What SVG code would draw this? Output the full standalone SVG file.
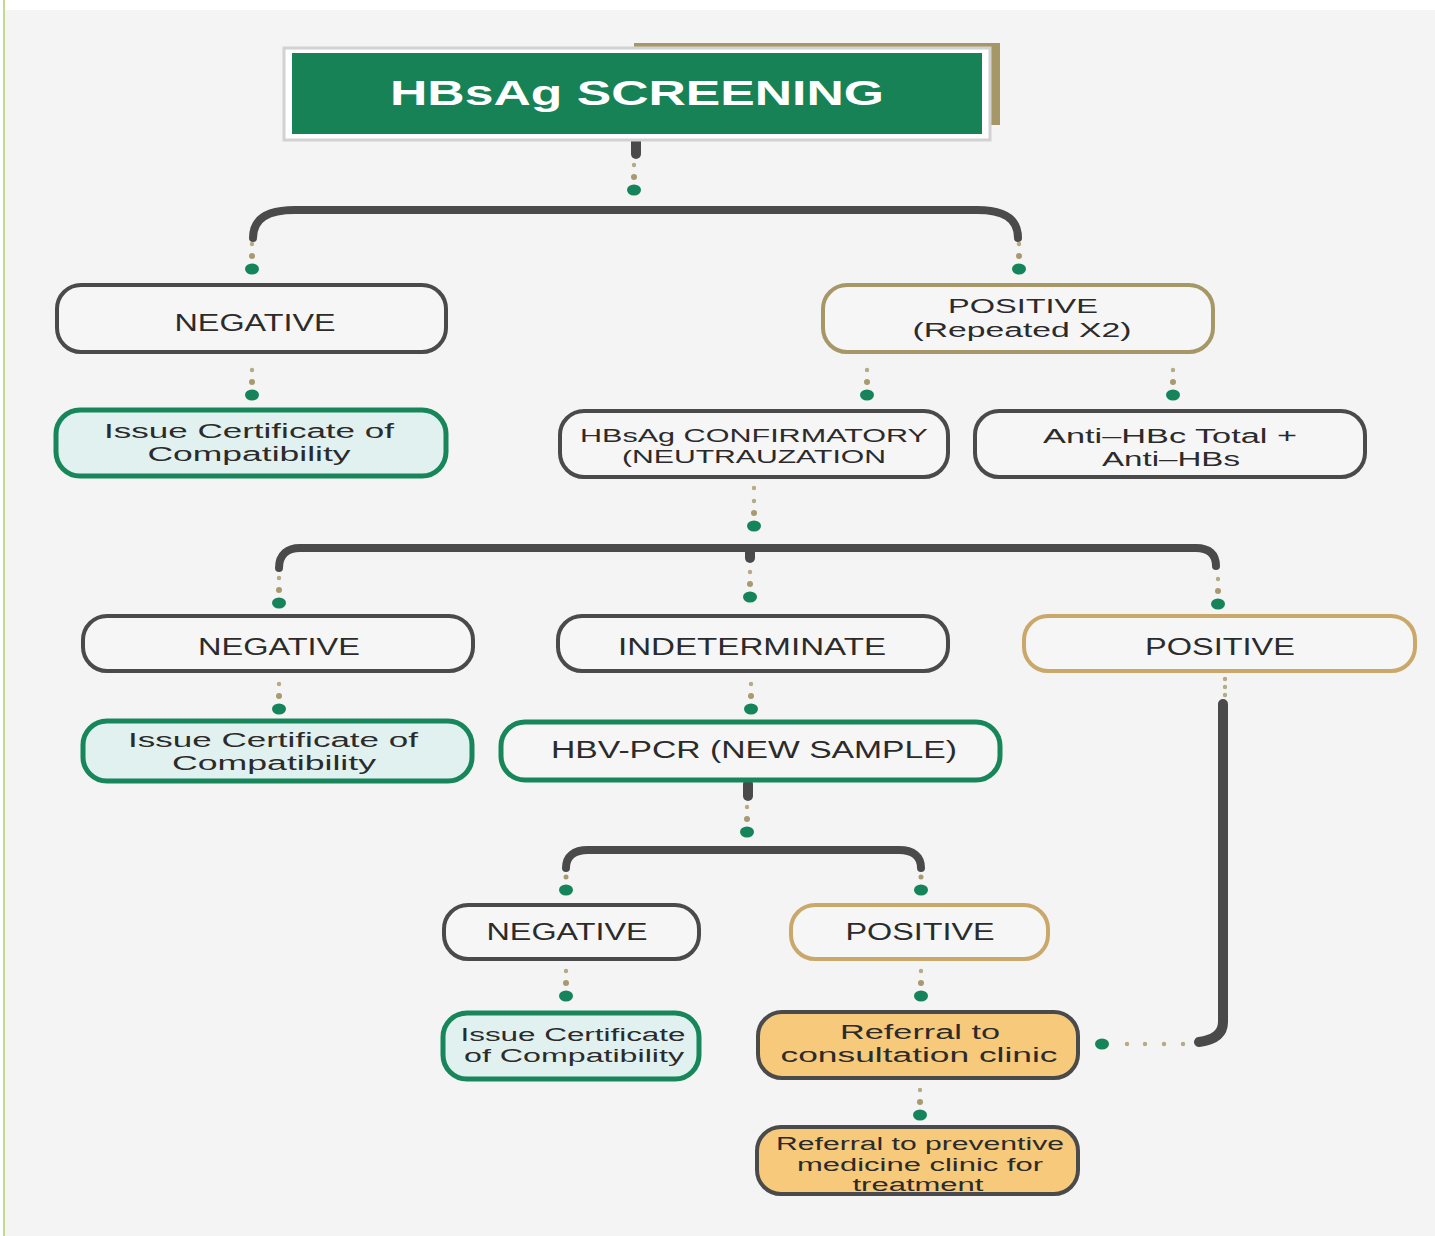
<svg xmlns="http://www.w3.org/2000/svg" width="1435" height="1236" viewBox="0 0 1435 1236">
  <style>
    .bg { fill: #f4f4f4; }
    .box { stroke-width: 4; }
    .dark { fill: #f6f6f6; stroke: #4a4a4a; }
    .olive { fill: #f6f6f6; stroke: #a69866; }
    .tan { fill: #f6f6f6; stroke: #c9a86a; }
    .cert { fill: #e1f1f0; stroke: #17865a; stroke-width: 5; }
    .pcr { fill: #f6f6f6; stroke: #17865a; stroke-width: 5; }
    .amber { fill: #f6c97b; stroke: #4a4a4a; }
    .lbl { font-family: "Liberation Sans", Arial, sans-serif; font-size: 23px; fill: #2b2b2b; text-anchor: middle; }
    .two { font-size: 20px; }
    .sm { font-size: 18px; }
    .title { font-family: "Liberation Sans", Arial, sans-serif; font-weight: bold; font-size: 35px; fill: #ffffff; text-anchor: middle; }
    .bar { fill: none; stroke: #4a4a4a; stroke-width: 8; stroke-linecap: round; }
    .stem { fill: none; stroke: #4a4a4a; stroke-width: 10; stroke-linecap: round; }
    .ds { fill: #b5aa84; }
    .dm { fill: #a89a6e; }
    .dg { fill: #15845a; }
  </style>
  <defs>
    <!-- dot trail used under each branch -->
    <g id="trail">
      <circle class="ds" cx="0" cy="0" r="2.2"/>
      <circle class="dm" cx="0" cy="12" r="3"/>
      <ellipse class="dg" cx="0" cy="25" rx="7" ry="5.5"/>
    </g>
  </defs>

  <!-- page -->
  <rect x="0" y="0" width="1435" height="1236" fill="#ffffff"/>
  <rect class="bg" x="5" y="10" width="1430" height="1226"/>
  <rect x="3" y="0" width="2" height="1236" fill="#c3d990"/>

  <!-- connectors -->
  <g id="connectors">
    <!-- from title -->
    <line class="stem" x1="636" y1="136" x2="636" y2="154"/>
    <use href="#trail" x="634" y="165"/>
    <path class="bar" d="M253,238 C253,218 268,210 295,210 H977 C1003,210 1018,218 1018,238"/>
    <use href="#trail" x="252" y="244"/>
    <use href="#trail" x="1019" y="244"/>

    <!-- below first row -->
    <use href="#trail" x="252" y="370"/>
    <use href="#trail" x="867" y="370"/>
    <use href="#trail" x="1173" y="370"/>

    <!-- below confirmatory -->
    <circle class="ds" cx="754" cy="488" r="2.2"/>
    <use href="#trail" x="754" y="501"/>
    <path class="bar" d="M279,568 C279,554 288,548 300,548 H1196 C1209,548 1216,554 1216,566"/>
    <line class="stem" x1="750" y1="549" x2="750" y2="558"/>
    <use href="#trail" x="279" y="578"/>
    <use href="#trail" x="750" y="572"/>
    <use href="#trail" x="1218" y="579"/>

    <!-- below third row -->
    <use href="#trail" x="279" y="684"/>
    <use href="#trail" x="751" y="684"/>

    <!-- below PCR -->
    <line class="stem" x1="748" y1="784" x2="748" y2="796"/>
    <use href="#trail" x="747" y="807"/>
    <path class="bar" d="M566,868 C566,856 574,850 588,850 H899 C913,850 921,856 921,868"/>
    <circle class="dm" cx="566" cy="877" r="2.5"/>
    <ellipse class="dg" cx="566" cy="890" rx="7" ry="5.5"/>
    <circle class="dm" cx="921" cy="877" r="2.5"/>
    <ellipse class="dg" cx="921" cy="890" rx="7" ry="5.5"/>

    <!-- below fourth row -->
    <use href="#trail" x="566" y="971"/>
    <use href="#trail" x="921" y="971"/>
    <use href="#trail" x="920" y="1090"/>

    <!-- long return path from right POSITIVE -->
    <circle class="ds" cx="1225" cy="679" r="2.2"/>
    <circle class="ds" cx="1225" cy="687" r="2.2"/>
    <circle class="ds" cx="1225" cy="695" r="2.2"/>
    <path class="stem" d="M1223,704 V1022 C1223,1034 1214,1040 1199,1042"/>
    <circle class="ds" cx="1183" cy="1044" r="2.2"/>
    <circle class="ds" cx="1164" cy="1044" r="2.2"/>
    <circle class="ds" cx="1145" cy="1044" r="2.2"/>
    <circle class="ds" cx="1127" cy="1044" r="2.2"/>
    <ellipse class="dg" cx="1102" cy="1044" rx="7" ry="5.5"/>
  </g>

  <!-- title -->
  <g id="title">
    <rect x="634" y="43" width="366" height="82" fill="#a69866"/>
    <rect x="284" y="48" width="706" height="92" fill="#ffffff" stroke="#d2d2d2" stroke-width="3"/>
    <rect x="292" y="53" width="690" height="81" fill="#178256"/>
    <text class="title" x="637" y="105" textLength="494" lengthAdjust="spacingAndGlyphs">HBsAg SCREENING</text>
  </g>

  <!-- first result row -->
  <g id="neg1">
    <rect class="box dark" x="57" y="285" width="389" height="67" rx="24"/>
    <text class="lbl" x="255" y="331" textLength="161" lengthAdjust="spacingAndGlyphs">NEGATIVE</text>
  </g>
  <g id="pos1">
    <rect class="box olive" x="823" y="285" width="390" height="67" rx="24"/>
    <text class="lbl two" x="1023" y="313" textLength="150" lengthAdjust="spacingAndGlyphs">POSITIVE</text>
    <text class="lbl two" x="1022" y="337" textLength="219" lengthAdjust="spacingAndGlyphs">(Repeated X2)</text>
  </g>

  <!-- second row -->
  <g id="cert1">
    <rect class="cert" x="56" y="410" width="390" height="66" rx="24"/>
    <text class="lbl two" x="249" y="438" textLength="290" lengthAdjust="spacingAndGlyphs">Issue Certificate of</text>
    <text class="lbl two" x="249" y="461" textLength="203" lengthAdjust="spacingAndGlyphs">Compatibility</text>
  </g>
  <g id="confirm">
    <rect class="box dark" x="560" y="411" width="388" height="66" rx="24"/>
    <text class="lbl sm" x="754" y="442" textLength="348" lengthAdjust="spacingAndGlyphs">HBsAg CONFIRMATORY</text>
    <text class="lbl sm" x="754" y="463" textLength="264" lengthAdjust="spacingAndGlyphs">(NEUTRAUZATION</text>
  </g>
  <g id="antihbc">
    <rect class="box dark" x="975" y="411" width="390" height="66" rx="24"/>
    <text class="lbl two" x="1170" y="443" textLength="254" lengthAdjust="spacingAndGlyphs">Anti–HBc Total +</text>
    <text class="lbl two" x="1171" y="466" textLength="138" lengthAdjust="spacingAndGlyphs">Anti–HBs</text>
  </g>

  <!-- third row -->
  <g id="neg2">
    <rect class="box dark" x="83" y="616" width="390" height="55" rx="24"/>
    <text class="lbl" x="279" y="655" textLength="162" lengthAdjust="spacingAndGlyphs">NEGATIVE</text>
  </g>
  <g id="indeterminate">
    <rect class="box dark" x="558" y="616" width="390" height="55" rx="24"/>
    <text class="lbl" x="752" y="655" textLength="268" lengthAdjust="spacingAndGlyphs">INDETERMINATE</text>
  </g>
  <g id="pos2">
    <rect class="box tan" x="1024" y="616" width="391" height="55" rx="24"/>
    <text class="lbl" x="1220" y="655" textLength="150" lengthAdjust="spacingAndGlyphs">POSITIVE</text>
  </g>

  <!-- fourth row -->
  <g id="cert2">
    <rect class="cert" x="83" y="721" width="389" height="60" rx="24"/>
    <text class="lbl two" x="273" y="747" textLength="290" lengthAdjust="spacingAndGlyphs">Issue Certificate of</text>
    <text class="lbl two" x="274" y="770" textLength="204" lengthAdjust="spacingAndGlyphs">Compatibility</text>
  </g>
  <g id="pcr">
    <rect class="pcr" x="501" y="722" width="499" height="58" rx="24"/>
    <text class="lbl" x="754" y="758" textLength="406" lengthAdjust="spacingAndGlyphs">HBV-PCR (NEW SAMPLE)</text>
  </g>

  <!-- PCR outcomes -->
  <g id="neg3">
    <rect class="box dark" x="444" y="905" width="255" height="54" rx="24"/>
    <text class="lbl" x="567" y="940" textLength="161" lengthAdjust="spacingAndGlyphs">NEGATIVE</text>
  </g>
  <g id="pos3">
    <rect class="box tan" x="791" y="905" width="257" height="54" rx="24"/>
    <text class="lbl" x="920" y="940" textLength="149" lengthAdjust="spacingAndGlyphs">POSITIVE</text>
  </g>
  <g id="cert3">
    <rect class="cert" x="443" y="1013" width="256" height="66" rx="24"/>
    <text class="lbl sm" x="573" y="1041" textLength="225" lengthAdjust="spacingAndGlyphs">Issue Certificate</text>
    <text class="lbl sm" x="574" y="1062" textLength="220" lengthAdjust="spacingAndGlyphs">of Compatibility</text>
  </g>
  <g id="consult">
    <rect class="box amber" x="758" y="1012" width="320" height="66" rx="24"/>
    <text class="lbl two" x="920" y="1039" textLength="160" lengthAdjust="spacingAndGlyphs">Referral to</text>
    <text class="lbl two" x="919" y="1062" textLength="277" lengthAdjust="spacingAndGlyphs">consultation clinic</text>
  </g>
  <g id="preventive">
    <rect class="box amber" x="757" y="1127" width="321" height="67" rx="24"/>
    <text class="lbl sm" x="920" y="1150" textLength="288" lengthAdjust="spacingAndGlyphs">Referral to preventive</text>
    <text class="lbl sm" x="920" y="1171" textLength="246" lengthAdjust="spacingAndGlyphs">medicine clinic for</text>
    <text class="lbl sm" x="918" y="1191" textLength="131" lengthAdjust="spacingAndGlyphs">treatment</text>
  </g>
</svg>
